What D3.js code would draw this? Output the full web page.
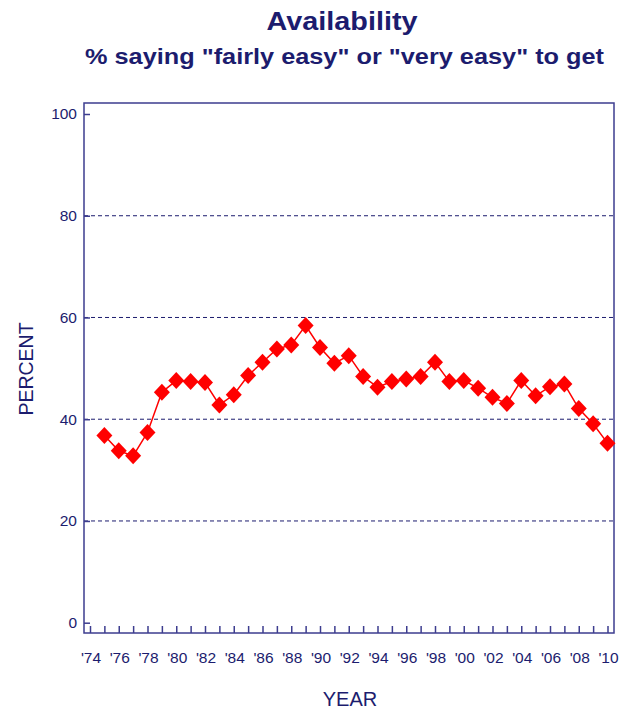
<!DOCTYPE html>
<html><head><meta charset="utf-8">
<script src="https://cdn.jsdelivr.net/npm/d3@7"></script>
<style>body{margin:0;background:#fff}svg{display:block}text{font-family:"Liberation Sans",Arial,sans-serif}</style>
</head><body><div id="chart"></div>
<script>
const years = [1975,1976,1977,1978,1979,1980,1981,1982,1983,1984,1985,1986,1987,1988,1989,1990,1991,1992,1993,1994,1995,1996,1997,1998,1999,2000,2001,2002,2003,2004,2005,2006,2007,2008,2009,2010];
const percent = [36.8,33.8,32.8,37.4,45.3,47.6,47.4,47.2,42.8,44.8,48.6,51.2,53.8,54.6,58.4,54.1,51.0,52.5,48.4,46.3,47.4,47.9,48.4,51.2,47.4,47.6,46.1,44.3,43.1,47.6,44.6,46.4,46.9,42.1,39.1,35.3];
const yTicks = [0,20,40,60,80,100];
const gridValues = [20,40,60,80];
const xTickYears = d3.range(1974,2011,2);
const xMinorYears = d3.range(1974,2011,1);

(function(){
const W=631,H=708;
const navy="#1c1c6e", frame="#3d3d8f", red="#ff0000";
const svg=d3.select("#chart").append("svg").attr("width",W).attr("height",H);
const pL=84,pR=614,pT=103,pB=633;
const x=d3.scaleLinear().domain([1974,2010]).range([90,607.5]);
const y=d3.scaleLinear().domain([0,100]).range([622.7,114]);

svg.append("text").attr("x",342).attr("y",30).attr("text-anchor","middle")
  .attr("font-size",26).attr("font-weight","bold").attr("fill",navy)
  .attr("textLength",151).attr("lengthAdjust","spacingAndGlyphs").text("Availability");
svg.append("text").attr("x",344.5).attr("y",63.5).attr("text-anchor","middle")
  .attr("font-size",22.5).attr("font-weight","bold").attr("fill",navy)
  .attr("textLength",519).attr("lengthAdjust","spacingAndGlyphs")
  .text('% saying "fairly easy" or "very easy" to get');

svg.append("g").selectAll("line").data(gridValues).join("line")
  .attr("x1",pL).attr("x2",pR).attr("y1",d=>y(d)).attr("y2",d=>y(d))
  .attr("stroke",navy).attr("stroke-width",1).attr("stroke-dasharray","4,3");

svg.append("rect").attr("x",pL).attr("y",pT).attr("width",pR-pL).attr("height",pB-pT)
  .attr("fill","none").attr("stroke",frame).attr("stroke-width",1.5);

const yAxis=d3.axisLeft(y).tickValues(yTicks).tickSize(-6).tickPadding(7).tickFormat(d3.format("d"));
const gy=svg.append("g").attr("transform",`translate(${pL},0)`).call(yAxis);
gy.select(".domain").remove();
gy.selectAll(".tick line").attr("stroke",frame).attr("stroke-width",1.5);
gy.selectAll(".tick text").attr("font-size",15.5).attr("fill",navy).attr("font-family","Liberation Sans, Arial, sans-serif");

const xAxis=d3.axisBottom(x).tickValues(xMinorYears).tickSize(-7).tickFormat("");
const gx=svg.append("g").attr("transform",`translate(0,${pB})`).call(xAxis);
gx.select(".domain").remove();
gx.selectAll(".tick line").attr("stroke",frame).attr("stroke-width",1.5);
svg.append("g").selectAll("text").data(xTickYears).join("text")
  .attr("x",d=>x(d)+1).attr("y",662.7).attr("text-anchor","middle")
  .attr("font-size",15.5).attr("fill",navy)
  .text(d=>"'"+String(d%100).padStart(2,"0"));

svg.append("text").attr("transform","translate(32.5,369) rotate(-90)").attr("text-anchor","middle")
  .attr("font-size",19.5).attr("fill",navy).text("PERCENT");
svg.append("text").attr("x",350).attr("y",705.5).attr("text-anchor","middle")
  .attr("font-size",20).attr("fill",navy).text("YEAR");

const data=years.map((yr,i)=>({yr,v:percent[i]}));
svg.append("path").datum(data).attr("fill","none").attr("stroke",red).attr("stroke-width",1.5)
  .attr("d",d3.line().x(d=>x(d.yr)).y(d=>y(d.v)));
svg.append("g").selectAll("path").data(data).join("path")
  .attr("transform",d=>`translate(${x(d.yr)},${y(d.v)})`)
  .attr("d","M0,-8.5L8,0L0,8.5L-8,0Z").attr("fill",red);
})();
</script></body></html>
